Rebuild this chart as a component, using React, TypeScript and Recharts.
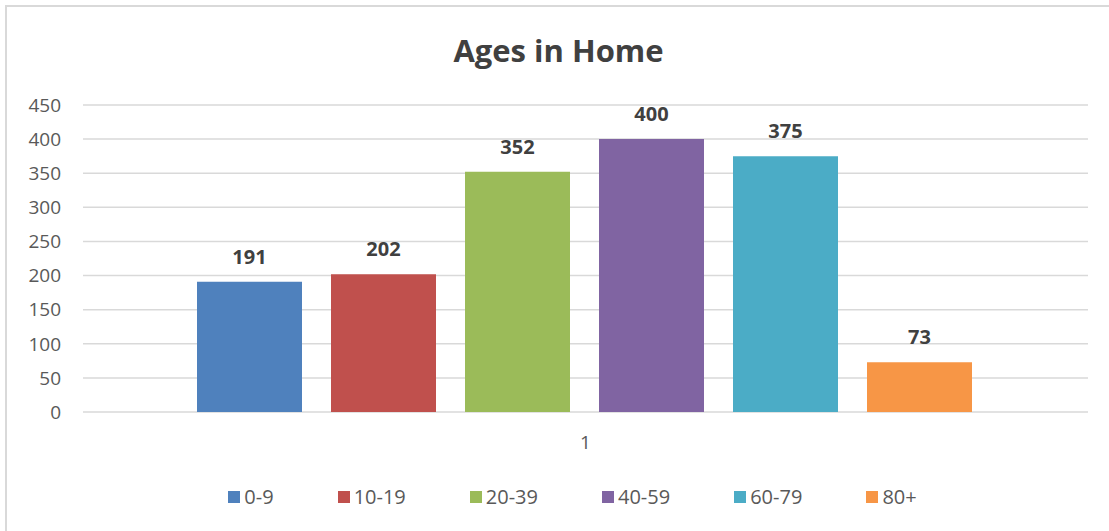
import React from "react"
import { BarChart, Bar, XAxis, YAxis, CartesianGrid, Legend, LabelList } from "recharts"

const categories = ["1"]
const seriesNames = ["0-9", "10-19", "20-39", "40-59", "60-79", "80+"]
const seriesValues = [191, 202, 352, 400, 375, 73]
const seriesColors = ["#4F81BD", "#C0504D", "#9BBB59", "#8064A2", "#4BACC6", "#F79646"]
const yTicks = [0, 50, 100, 150, 200, 250, 300, 350, 400, 450]

const FONT = "'Open Sans', 'Liberation Sans', sans-serif"

// one row per category, one key per age group
const chartData = categories.map((cat) => {
  const row: Record<string, string | number> = { name: cat }
  seriesNames.forEach((s, i) => {
    row[s] = seriesValues[i]
  })
  return row
})

const LegendRow = () => (
  <div
    style={{
      display: "flex",
      justifyContent: "center",
      gap: 64,
      fontFamily: FONT,
      fontSize: 20,
      lineHeight: "26px",
      color: "#595959",
      paddingLeft: 34
    }}
  >
    {seriesNames.map((s, i) => (
      <div key={s} style={{ display: "flex", alignItems: "center" }}>
        <span
          style={{
            display: "inline-block",
            width: 12,
            height: 12,
            background: seriesColors[i],
            marginRight: 4
          }}
        />
        <span>{s}</span>
      </div>
    ))}
  </div>
)

export default function App() {
  return (
    <div style={{ position: "absolute", left: 0, top: 0, width: 1109, height: 531, background: "#fff" }}>
      <div
        style={{
          position: "absolute",
          left: 5,
          top: 5,
          width: 1110,
          height: 530,
          borderLeft: "2px solid #d9d9d9",
          borderTop: "2px solid #d9d9d9"
        }}
      />
      <div
        style={{
          position: "absolute",
          left: 0,
          top: 28,
          width: 1109,
          textAlign: "center",
          fontFamily: FONT,
          fontWeight: 700,
          fontSize: 31,
          lineHeight: "44px",
          color: "#404040",
          paddingLeft: 4
        }}
      >
        Ages in Home
      </div>
      <div style={{ position: "absolute", left: 0, top: 0 }}>
        <BarChart
          width={1109}
          height={531}
          data={chartData}
          margin={{ top: 105, right: 21, bottom: 0, left: 23 }}
          barCategoryGap={114}
          barGap={29}
        >
          <CartesianGrid vertical={false} stroke="#d9d9d9" strokeWidth={1.5} />
          <XAxis
            dataKey="name"
            axisLine={false}
            tickLine={false}
            tickSize={0}
            tickMargin={24}
            height={72}
            tick={{ fill: "#595959", fontSize: 19, fontFamily: FONT }}
          />
          <YAxis
            width={60}
            domain={[0, 450]}
            ticks={yTicks}
            axisLine={false}
            tickLine={false}
            tickSize={0}
            tickMargin={22}
            tick={{ fill: "#595959", fontSize: 19, fontFamily: FONT }}
          />
          <Legend verticalAlign="bottom" height={47} content={() => <LegendRow />} />
          {seriesNames.map((s, i) => (
            <Bar key={s} dataKey={s} fill={seriesColors[i]} isAnimationActive={false}>
              <LabelList
                dataKey={s}
                position="top"
                offset={18}
                fill="#404040"
                fontWeight={700}
                fontSize={20}
                fontFamily={FONT}
              />
            </Bar>
          ))}
        </BarChart>
      </div>
    </div>
  )
}
